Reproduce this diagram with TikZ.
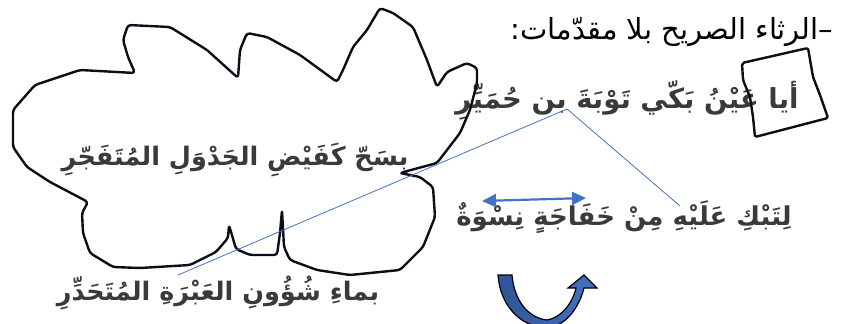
\documentclass[tikz,border=0pt]{standalone}
\usepackage{fontspec}
\usetikzlibrary{arrows.meta}
\TeXXeTstate=1
\newfontfamily\arabicfont[Script=Arabic]{DejaVu Sans}
\definecolor{ink}{HTML}{0D0D1A}
\definecolor{verse}{HTML}{3A3A3A}
\definecolor{accent}{HTML}{4472C4}
\definecolor{accentdark}{HTML}{2F5597}
\tikzset{
  title/.style={font=\arabicfont\fontsize{29}{32}\selectfont, text=black, inner sep=0pt},
  verseline/.style={font=\arabicfont\bfseries\fontsize{#1}{30}\selectfont, text=verse, inner sep=0pt},
  verseline/.default=26,
  sketch/.style={draw=ink, line width=2.4pt, line join=round, rounded corners=3pt},
  pointer/.style={draw=accent, line width=0.8pt},
  swap/.style={draw=accent, line width=2.2pt, {Triangle[length=14pt,width=13pt]}-{Triangle[length=14pt,width=13pt]}},
  uturn/.style={draw=black, line width=1.2pt, left color=accentdark, right color=accent}
}
\begin{document}
\begin{tikzpicture}[x=1pt,y=-1pt]
\useasboundingbox (0,0) rectangle (841,324);

% verses and heading
\node[title] (head) at (672,32) {\beginR –الرثاء الصريح بلا مقدّمات:\endR};
\node[verseline=27.5] (v1) at (627,100) {\beginR أيا عَيْنُ بَكّي تَوْبَةَ بن حُمَيِّرِ\endR};
\node[verseline=25.5] (v2) at (235,160) {\beginR بِسَحّ كَفَيْضِ الجَدْوَلِ المُتَفَجّرِ\endR};
\node[verseline=26] (v3) at (624,217) {\beginR لِتَبْكِ عَلَيْهِ مِنْ خَفَاجَةٍ نِسْوَةٌ\endR};
\node[verseline=25.5] (v4) at (218,293) {\beginR بماءِ شُؤُونِ العَبْرَةِ المُتَحَدِّرِ\endR};

% hand-drawn cloud round the second hemistich
\draw[sketch] (35,85) -- (80,70) -- (135,73) -- (128,57) -- (123,40) -- (128,25)
  -- (170,27) -- (207,50) -- (238,78) -- (240,50) -- (247,33) -- (267,37)
  -- (300,55) -- (337,82) -- (343,70) -- (353,47) -- (367,30) -- (380,8)
  -- (393,13) -- (413,27) -- (427,60) -- (437,87) -- (447,72) -- (467,63)
  -- (477,68) -- (477,83) -- (470,110) -- (460,133) -- (437,163) -- (400,173)
  -- (420,177) -- (433,187) -- (435,217) -- (423,247) -- (400,270) -- (350,275)
  -- (317,270) -- (290,260) -- (284,247) -- (282,210) -- (280,233) -- (277,255)
  -- (250,255) -- (236,249) -- (229,225) -- (228,238) -- (216,252) -- (190,265)
  -- (140,268) -- (113,267) -- (90,253) -- (83,233) -- (82,213) -- (88,202)
  -- (50,182) -- (27,167) -- (13,147) -- (13,110) -- cycle;

% hand-drawn frame round the opening word
\draw[sketch, rounded corners=2pt] (742,63) -- (808,48) -- (813,77) -- (820,95)
  -- (828,118) -- (755,137) -- (753,117) -- (750,97) -- (743,80) -- cycle;

% pointer lines
\coordinate (pa) at (178,275);
\coordinate (pb) at (567,109);
\coordinate (pc) at (680,206);
\draw[pointer] (pa) -- (pb) -- (pc);

% two-headed arrow
\coordinate (sl) at (482,201);
\coordinate (sr) at (586,198);
\draw[swap] (sl) -- (sr);

% curved U-turn arrow
\path[uturn] (498,275) -- (512,275)
  .. controls (514,300) and (528,318) .. (547,320)
  .. controls (560,318) and (572,305) .. (576,288)
  -- (568,288) -- (584,275) -- (597,288) -- (584,288)
  .. controls (578,312) and (562,327) .. (547,328)
  .. controls (520,327) and (500,305) .. (498,275) -- cycle;
\end{tikzpicture}
\end{document}
